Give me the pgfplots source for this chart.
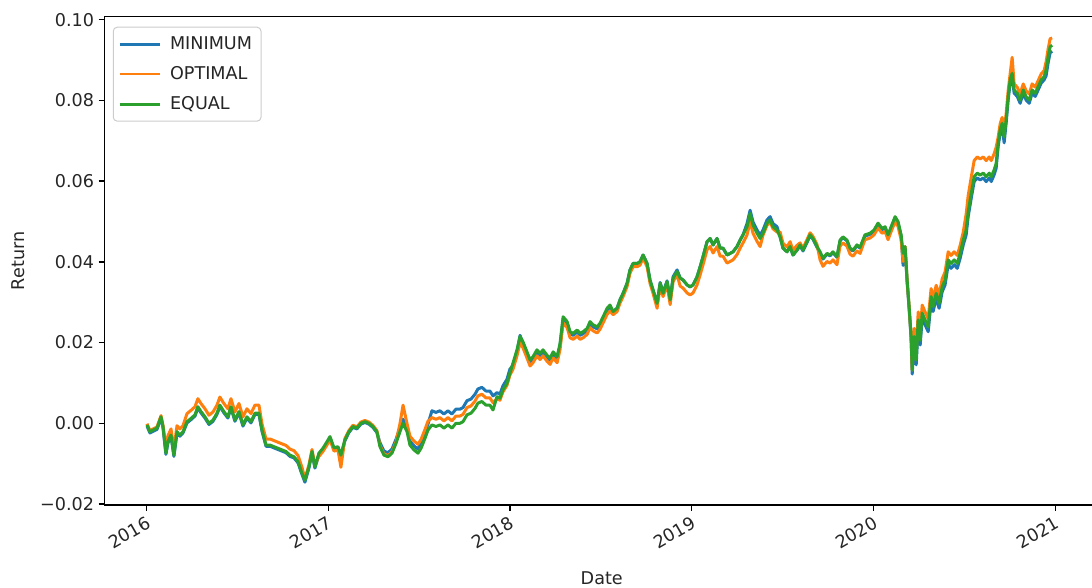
\documentclass[border=0pt]{standalone}
\usepackage{fontspec}
\setmainfont{DejaVu Sans}
\usepackage{pgfplots}
\usepackage{pgfplotstable}
\pgfplotsset{compat=1.18}
\definecolor{tabblue}{HTML}{1F77B4}
\definecolor{taborange}{HTML}{FF7F0E}
\definecolor{tabgreen}{HTML}{2CA02C}
\pgfplotstableread{
date minimum optimal equal
2016.002 -0.0007 -0.0001 -0.0004
2016.018 -0.0024 -0.0018 -0.0021
2016.035 -0.0020 -0.0014 -0.0017
2016.057 -0.0015 -0.0009 -0.0012
2016.079 0.0013 0.0019 0.0016
2016.090 -0.0011 -0.0005 -0.0008
2016.106 -0.0077 -0.0059 -0.0074
2016.117 -0.0049 -0.0031 -0.0046
2016.134 -0.0032 -0.0014 -0.0029
2016.150 -0.0082 -0.0064 -0.0079
2016.167 -0.0024 -0.0006 -0.0021
2016.183 -0.0032 -0.0014 -0.0029
2016.200 -0.0024 -0.0006 -0.0021
2016.222 0.0001 0.0024 0.0004
2016.244 0.0009 0.0032 0.0012
2016.266 0.0018 0.0041 0.0021
2016.282 0.0038 0.0061 0.0041
2016.299 0.0026 0.0049 0.0029
2016.321 0.0013 0.0036 0.0016
2016.343 -0.0003 0.0020 0.0000
2016.365 0.0005 0.0028 0.0008
2016.387 0.0022 0.0045 0.0025
2016.403 0.0042 0.0065 0.0045
2016.425 0.0026 0.0049 0.0029
2016.447 0.0013 0.0036 0.0016
2016.464 0.0038 0.0061 0.0041
2016.486 0.0005 0.0028 0.0008
2016.508 0.0026 0.0049 0.0029
2016.530 -0.0007 0.0016 -0.0004
2016.552 0.0013 0.0036 0.0016
2016.574 0.0001 0.0024 0.0004
2016.596 0.0022 0.0045 0.0025
2016.618 0.0022 0.0045 0.0025
2016.635 -0.0020 -0.0002 -0.0017
2016.657 -0.0057 -0.0039 -0.0054
2016.679 -0.0057 -0.0039 -0.0054
2016.701 -0.0061 -0.0043 -0.0058
2016.723 -0.0065 -0.0047 -0.0062
2016.745 -0.0069 -0.0051 -0.0066
2016.767 -0.0073 -0.0055 -0.0070
2016.789 -0.0082 -0.0064 -0.0079
2016.811 -0.0086 -0.0068 -0.0083
2016.833 -0.0098 -0.0080 -0.0095
2016.855 -0.0127 -0.0109 -0.0124
2016.871 -0.0146 -0.0138 -0.0141
2016.893 -0.0111 -0.0103 -0.0108
2016.910 -0.0073 -0.0065 -0.0070
2016.926 -0.0111 -0.0103 -0.0108
2016.948 -0.0077 -0.0082 -0.0074
2016.970 -0.0065 -0.0070 -0.0062
2016.992 -0.0049 -0.0054 -0.0046
2017.009 -0.0036 -0.0041 -0.0033
2017.031 -0.0064 -0.0069 -0.0061
2017.053 -0.0061 -0.0066 -0.0058
2017.069 -0.0082 -0.0109 -0.0079
2017.091 -0.0043 -0.0038 -0.0041
2017.113 -0.0023 -0.0018 -0.0021
2017.135 -0.0010 -0.0005 -0.0008
2017.157 -0.0014 -0.0009 -0.0012
2017.179 -0.0002 0.0003 0.0000
2017.201 0.0002 0.0007 0.0004
2017.223 -0.0002 0.0003 0.0000
2017.245 -0.0010 -0.0005 -0.0008
2017.267 -0.0023 -0.0018 -0.0021
2017.284 -0.0048 -0.0055 -0.0058
2017.306 -0.0069 -0.0076 -0.0079
2017.328 -0.0073 -0.0080 -0.0083
2017.350 -0.0064 -0.0071 -0.0074
2017.372 -0.0040 -0.0047 -0.0050
2017.394 -0.0011 -0.0001 -0.0021
2017.411 0.0010 0.0045 0.0000
2017.433 -0.0011 -0.0001 -0.0021
2017.449 -0.0044 -0.0032 -0.0054
2017.471 -0.0056 -0.0044 -0.0066
2017.493 -0.0064 -0.0052 -0.0074
2017.510 -0.0047 -0.0040 -0.0062
2017.532 -0.0022 -0.0015 -0.0037
2017.548 -0.0002 0.0005 -0.0017
2017.570 0.0031 0.0014 -0.0004
2017.592 0.0027 0.0010 -0.0008
2017.614 0.0031 0.0014 -0.0004
2017.636 0.0023 0.0006 -0.0012
2017.658 0.0031 0.0014 -0.0004
2017.680 0.0023 0.0006 -0.0012
2017.702 0.0035 0.0018 0.0000
2017.724 0.0035 0.0018 0.0000
2017.741 0.0039 0.0022 0.0004
2017.763 0.0056 0.0039 0.0021
2017.785 0.0060 0.0043 0.0025
2017.807 0.0072 0.0055 0.0037
2017.823 0.0085 0.0068 0.0050
2017.845 0.0089 0.0072 0.0054
2017.867 0.0080 0.0063 0.0045
2017.889 0.0080 0.0063 0.0045
2017.906 0.0068 0.0051 0.0033
2017.928 0.0076 0.0061 0.0066
2017.944 0.0072 0.0057 0.0062
2017.961 0.0093 0.0078 0.0083
2017.983 0.0109 0.0094 0.0099
2017.999 0.0134 0.0119 0.0124
2018.016 0.0144 0.0134 0.0149
2018.038 0.0177 0.0167 0.0182
2018.055 0.0218 0.0200 0.0215
2018.071 0.0197 0.0187 0.0202
2018.093 0.0172 0.0162 0.0177
2018.110 0.0152 0.0142 0.0157
2018.126 0.0160 0.0150 0.0165
2018.148 0.0177 0.0167 0.0182
2018.165 0.0168 0.0158 0.0173
2018.181 0.0177 0.0167 0.0182
2018.203 0.0164 0.0154 0.0169
2018.220 0.0156 0.0146 0.0161
2018.237 0.0172 0.0162 0.0177
2018.259 0.0160 0.0150 0.0165
2018.275 0.0193 0.0183 0.0198
2018.292 0.0259 0.0249 0.0264
2018.314 0.0247 0.0237 0.0252
2018.330 0.0222 0.0212 0.0227
2018.347 0.0218 0.0208 0.0223
2018.369 0.0226 0.0216 0.0231
2018.385 0.0218 0.0208 0.0223
2018.402 0.0222 0.0212 0.0227
2018.424 0.0230 0.0220 0.0235
2018.440 0.0247 0.0237 0.0252
2018.457 0.0239 0.0229 0.0244
2018.479 0.0234 0.0224 0.0239
2018.495 0.0243 0.0233 0.0248
2018.512 0.0259 0.0249 0.0264
2018.534 0.0280 0.0270 0.0285
2018.550 0.0288 0.0278 0.0293
2018.567 0.0277 0.0269 0.0277
2018.589 0.0285 0.0277 0.0285
2018.605 0.0306 0.0298 0.0306
2018.622 0.0322 0.0314 0.0322
2018.644 0.0347 0.0339 0.0347
2018.660 0.0380 0.0372 0.0380
2018.677 0.0396 0.0388 0.0396
2018.699 0.0396 0.0388 0.0396
2018.715 0.0400 0.0392 0.0400
2018.732 0.0417 0.0409 0.0417
2018.754 0.0396 0.0388 0.0396
2018.770 0.0355 0.0347 0.0355
2018.787 0.0330 0.0322 0.0330
2018.809 0.0297 0.0285 0.0297
2018.826 0.0349 0.0339 0.0347
2018.842 0.0324 0.0314 0.0322
2018.864 0.0353 0.0343 0.0351
2018.881 0.0308 0.0294 0.0306
2018.897 0.0363 0.0351 0.0359
2018.919 0.0380 0.0368 0.0376
2018.936 0.0360 0.0340 0.0360
2018.952 0.0355 0.0335 0.0355
2018.974 0.0343 0.0323 0.0343
2018.991 0.0338 0.0318 0.0338
2019.007 0.0343 0.0323 0.0343
2019.029 0.0363 0.0343 0.0363
2019.046 0.0388 0.0368 0.0388
2019.062 0.0413 0.0393 0.0413
2019.084 0.0450 0.0430 0.0450
2019.101 0.0458 0.0438 0.0458
2019.117 0.0442 0.0422 0.0442
2019.139 0.0458 0.0438 0.0458
2019.156 0.0434 0.0414 0.0434
2019.172 0.0434 0.0414 0.0434
2019.194 0.0417 0.0397 0.0417
2019.211 0.0421 0.0401 0.0421
2019.227 0.0425 0.0405 0.0425
2019.249 0.0438 0.0418 0.0438
2019.266 0.0454 0.0434 0.0454
2019.282 0.0467 0.0447 0.0467
2019.304 0.0495 0.0467 0.0487
2019.321 0.0528 0.0500 0.0520
2019.337 0.0499 0.0471 0.0491
2019.359 0.0479 0.0451 0.0471
2019.376 0.0466 0.0438 0.0458
2019.392 0.0479 0.0466 0.0471
2019.414 0.0504 0.0491 0.0496
2019.431 0.0512 0.0499 0.0504
2019.447 0.0495 0.0482 0.0487
2019.469 0.0487 0.0474 0.0479
2019.486 0.0462 0.0474 0.0462
2019.502 0.0434 0.0446 0.0434
2019.524 0.0425 0.0437 0.0425
2019.541 0.0438 0.0450 0.0438
2019.557 0.0417 0.0429 0.0417
2019.579 0.0429 0.0441 0.0429
2019.596 0.0440 0.0447 0.0442
2019.612 0.0427 0.0434 0.0429
2019.634 0.0448 0.0455 0.0450
2019.651 0.0465 0.0472 0.0467
2019.667 0.0456 0.0463 0.0458
2019.689 0.0436 0.0443 0.0438
2019.706 0.0423 0.0405 0.0425
2019.722 0.0407 0.0389 0.0409
2019.744 0.0419 0.0401 0.0421
2019.761 0.0415 0.0397 0.0417
2019.777 0.0423 0.0405 0.0425
2019.799 0.0411 0.0393 0.0413
2019.816 0.0452 0.0439 0.0454
2019.832 0.0460 0.0447 0.0462
2019.854 0.0452 0.0439 0.0454
2019.871 0.0432 0.0419 0.0434
2019.887 0.0427 0.0414 0.0429
2019.909 0.0440 0.0427 0.0442
2019.926 0.0434 0.0421 0.0436
2019.953 0.0464 0.0455 0.0467
2019.981 0.0468 0.0459 0.0471
2020.003 0.0476 0.0467 0.0479
2020.025 0.0493 0.0484 0.0496
2020.047 0.0480 0.0471 0.0483
2020.064 0.0484 0.0475 0.0487
2020.080 0.0464 0.0455 0.0467
2020.097 0.0484 0.0475 0.0487
2020.119 0.0509 0.0500 0.0512
2020.135 0.0497 0.0488 0.0500
2020.152 0.0464 0.0455 0.0467
2020.163 0.0391 0.0401 0.0421
2020.174 0.0433 0.0438 0.0438
2020.185 0.0350 0.0355 0.0355
2020.196 0.0284 0.0289 0.0289
2020.207 0.0210 0.0215 0.0215
2020.213 0.0122 0.0132 0.0132
2020.224 0.0203 0.0235 0.0215
2020.235 0.0145 0.0177 0.0157
2020.246 0.0244 0.0276 0.0256
2020.257 0.0194 0.0226 0.0206
2020.268 0.0261 0.0293 0.0273
2020.284 0.0244 0.0276 0.0256
2020.301 0.0227 0.0259 0.0239
2020.317 0.0302 0.0334 0.0314
2020.328 0.0277 0.0309 0.0289
2020.345 0.0310 0.0342 0.0322
2020.361 0.0285 0.0317 0.0297
2020.378 0.0326 0.0358 0.0338
2020.394 0.0343 0.0375 0.0355
2020.411 0.0393 0.0425 0.0405
2020.427 0.0384 0.0416 0.0396
2020.444 0.0393 0.0425 0.0405
2020.461 0.0384 0.0416 0.0396
2020.477 0.0409 0.0441 0.0421
2020.494 0.0442 0.0474 0.0454
2020.510 0.0467 0.0519 0.0479
2020.521 0.0512 0.0564 0.0524
2020.538 0.0558 0.0610 0.0570
2020.554 0.0599 0.0651 0.0611
2020.571 0.0608 0.0660 0.0620
2020.587 0.0603 0.0655 0.0615
2020.604 0.0608 0.0660 0.0620
2020.620 0.0599 0.0651 0.0611
2020.637 0.0608 0.0660 0.0620
2020.648 0.0599 0.0651 0.0611
2020.664 0.0616 0.0668 0.0628
2020.675 0.0632 0.0684 0.0644
2020.686 0.0686 0.0709 0.0694
2020.697 0.0719 0.0742 0.0727
2020.708 0.0735 0.0758 0.0743
2020.719 0.0695 0.0725 0.0710
2020.730 0.0744 0.0767 0.0752
2020.741 0.0801 0.0824 0.0809
2020.752 0.0843 0.0866 0.0851
2020.763 0.0859 0.0907 0.0867
2020.774 0.0818 0.0841 0.0826
2020.791 0.0810 0.0833 0.0818
2020.807 0.0793 0.0816 0.0801
2020.824 0.0818 0.0841 0.0826
2020.840 0.0801 0.0824 0.0809
2020.857 0.0793 0.0816 0.0801
2020.873 0.0818 0.0841 0.0826
2020.890 0.0810 0.0833 0.0818
2020.906 0.0826 0.0849 0.0834
2020.923 0.0843 0.0866 0.0851
2020.939 0.0851 0.0874 0.0859
2020.950 0.0861 0.0896 0.0876
2020.961 0.0893 0.0928 0.0908
2020.972 0.0918 0.0953 0.0933
2020.983 0.0922 0.0955 0.0937
}\returns

\begin{document}
\begin{tikzpicture}
\begin{axis}[
  name=ax,
  scale only axis,
  width=497.25pt, height=244.15pt,
  xmin=2015.768, xmax=2021.241,
  ymin=-0.02025, ymax=0.10076,
  xtick={2016,2017,2018,2019,2020,2021},
  xticklabels={2016,2017,2018,2019,2020,2021},
  ytick={-0.02,0,0.02,0.04,0.06,0.08,0.10},
  yticklabels={−0.02,0.00,0.02,0.04,0.06,0.08,0.10},
  xtick pos=lower, ytick pos=left,
  tick align=outside,
  major tick length=3pt,
  tick style={black, line width=0.7pt},
  axis line style={black, line width=0.7pt},
  ticklabel style={font=\fontsize{8.8}{10}\selectfont, text=black!85},
  xticklabel style={rotate=30, anchor=north east, inner sep=1.5pt},
  yticklabel style={inner sep=2pt},
  xlabel={Date}, ylabel={Return},
  label style={font=\fontsize{8.8}{10}\selectfont, text=black!85},
  xlabel style={at={(axis description cs:0.5,-0.1495)}, anchor=center},
  ylabel style={at={(axis description cs:-0.087,0.5)}, anchor=center},
  legend cell align=left,
  legend style={at={(axis description cs:0.0083,0.9795)}, anchor=north west,
    draw=black!20, rounded corners=2pt, line width=0.5pt,
    font=\fontsize{8.8}{10}\selectfont, text=black!85,
    inner xsep=2.5pt, inner ysep=2.5pt, row sep=3pt,
    /tikz/every odd column/.append style={column sep=2.5pt}},
  legend image code/.code={\draw[#1, line width=1.4pt] (0pt,0pt) -- (20pt,0pt);},
  every axis plot/.append style={line width=1.5pt, line join=round},
]
\addplot[tabblue, no markers] table[x=date, y=minimum] {\returns};
\addlegendentry{MINIMUM}
\addplot[taborange, no markers] table[x=date, y=optimal] {\returns};
\addlegendentry{OPTIMAL}
\addplot[tabgreen, no markers] table[x=date, y=equal] {\returns};
\addlegendentry{EQUAL}
\end{axis}
\pgfresetboundingbox
\path[use as bounding box] ([xshift=-52.25pt,yshift=-41.5pt]ax.south west) rectangle ([xshift=-3.5pt,yshift=8.35pt]ax.north east);
\end{tikzpicture}
\end{document}
